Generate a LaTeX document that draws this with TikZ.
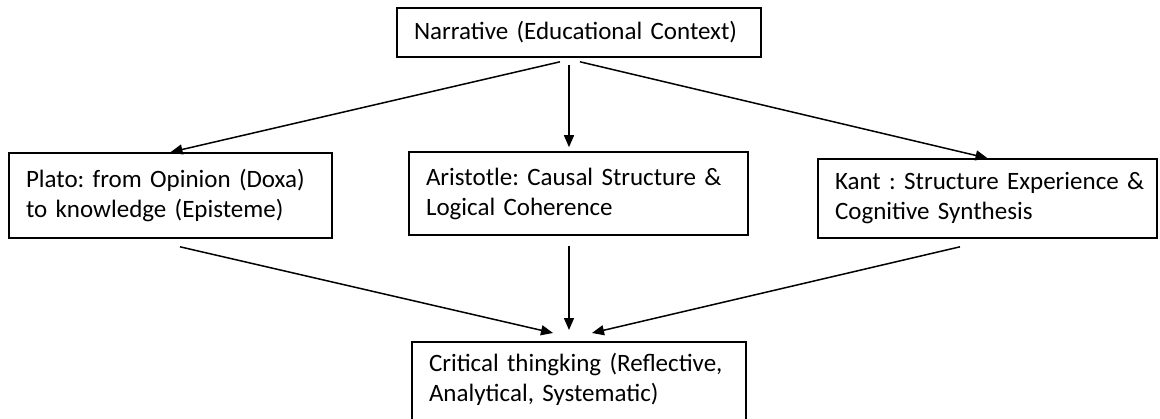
\documentclass[tikz,border=0pt]{standalone}
\usepackage{fontspec}
\setmainfont{Carlito}
\usetikzlibrary{arrows.meta}
\begin{document}
\begin{tikzpicture}
    [x=1pt, y=-1pt,
     box/.style={draw, line width=1.6pt, align=left, inner xsep=17pt, inner ysep=0pt,
                 font=\fontsize{25}{30}\selectfont\frenchspacing},
     arr/.style={line width=1.5pt, -{Triangle[length=12pt, width=10pt]}}]
    \clip (0,0) rectangle (1160,418);
    \node[box, text width=330pt, minimum height=49pt] (narr) at (579,32.5) {Narrative (Educational Context)};
    \node[box, text width=289pt, minimum height=85pt] (plato) at (170.5,195.5) {Plato: from Opinion (Doxa)\\to knowledge (Episteme)};
    \node[box, text width=305pt, minimum height=83pt] (arist) at (578.5,193.5) {Aristotle: Causal Structure \&\\Logical Coherence};
    \node[box, text width=305pt, minimum height=79pt] (kant) at (987.5,198.5) {\mbox{Kant : Structure Experience \&}\\Cognitive Synthesis};
    \node[box, text width=300pt, minimum height=110pt] (crit) at (579,397) {Critical thingking (Reflective,\\Analytical, Systematic)\\\strut};

    \coordinate (tipL) at (553,333);
    \coordinate (tipM) at (569,330);
    \coordinate (tipR) at (592,333);

    \draw[arr] ([xshift=-19pt, yshift=-4pt]narr.south) -- (plato.north);
    \draw[arr] ([xshift=-10pt, yshift=-7pt]narr.south) -- ([xshift=-9.5pt, yshift=4pt]arist.north);
    \draw[arr] ([xshift=1pt, yshift=-4pt]narr.south) -- (kant.north);

    \draw[arr] ([xshift=9.5pt, yshift=-8pt]plato.south) -- (tipL);
    \draw[arr] ([xshift=-9.5pt, yshift=-10pt]arist.south) -- (tipM);
    \draw[arr] ([xshift=-27.5pt, yshift=-8pt]kant.south) -- (tipR);
\end{tikzpicture}
\end{document}
